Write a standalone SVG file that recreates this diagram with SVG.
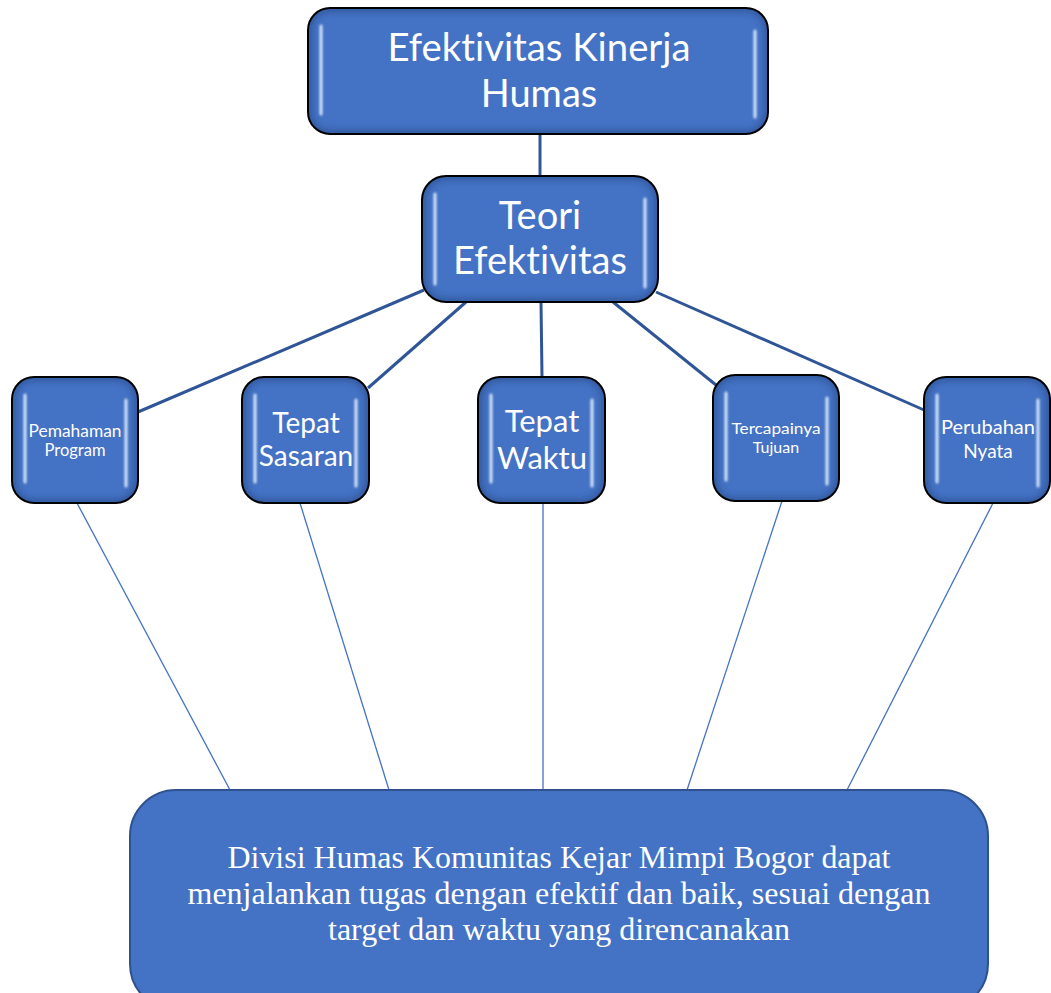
<svg xmlns="http://www.w3.org/2000/svg" width="1051" height="993" viewBox="0 0 1051 993">
<defs>
<filter id="blur" x="-10%" y="-10%" width="120%" height="120%"><feGaussianBlur stdDeviation="3"/></filter>
<filter id="hb" x="-50%" y="-5%" width="200%" height="110%"><feGaussianBlur stdDeviation="0.8"/></filter>
<clipPath id="c1"><rect x="308" y="8" width="460" height="126" rx="22"/></clipPath>
<clipPath id="c2"><rect x="422" y="176" width="236" height="126" rx="24"/></clipPath>
<clipPath id="c3"><rect x="12" y="377" width="126" height="126" rx="22"/></clipPath>
<clipPath id="c4"><rect x="242" y="377" width="127" height="126" rx="22"/></clipPath>
<clipPath id="c5"><rect x="478" y="377" width="127" height="126" rx="22"/></clipPath>
<clipPath id="c6"><rect x="713" y="375" width="126" height="126" rx="22"/></clipPath>
<clipPath id="c7"><rect x="924" y="377" width="126" height="126" rx="22"/></clipPath>
</defs>
<style>
.fill{fill:#4472C4}
.glow{fill:none;stroke:#2B4F8E;stroke-width:8;opacity:0.7}
.edge{fill:none;stroke:#000;stroke-width:2}
.hl{stroke:#D6E6FA;stroke-width:3;stroke-linecap:round;fill:none}
.t{fill:#fff;font-family:Lato,"Open Sans",sans-serif;text-anchor:middle;font-variant-ligatures:none}
.thick{stroke:#2F5597;stroke-width:3;fill:none}
.thin{stroke:#4472C4;stroke-width:1.3;fill:none}
.serif{fill:#fff;font-family:"Liberation Serif",serif;text-anchor:middle;font-size:31px}
</style>
<g id="connectors">
<line class="thick" x1="540" y1="134" x2="540" y2="176"/>
<line class="thick" x1="424" y1="290" x2="138" y2="412"/>
<line class="thick" x1="466" y1="302" x2="368" y2="388"/>
<line class="thick" x1="541" y1="302" x2="542" y2="377"/>
<line class="thick" x1="613" y1="302" x2="716" y2="385"/>
<line class="thick" x1="656" y1="292" x2="924" y2="410"/>
<line class="thin" x1="77" y1="503" x2="230" y2="790"/>
<line class="thin" x1="300" y1="503" x2="389" y2="790"/>
<line class="thin" x1="543" y1="503" x2="543" y2="790"/>
<line class="thin" x1="782" y1="501" x2="687" y2="790"/>
<line class="thin" x1="993" y1="503" x2="847" y2="790"/>
</g>
<g id="n1">
<rect class="fill" x="308" y="8" width="460" height="126" rx="22"/>
<rect class="glow" x="308" y="8" width="460" height="126" rx="22" clip-path="url(#c1)" filter="url(#blur)"/>
<rect class="edge" x="308" y="8" width="460" height="126" rx="22"/>
<g filter="url(#hb)"><line class="hl" x1="321" y1="26" x2="321" y2="114"/><line class="hl" x1="755" y1="31" x2="755" y2="117"/></g>
<text class="t" font-size="38" x="539" y="61" textLength="303" lengthAdjust="spacingAndGlyphs">Efektivitas Kinerja</text>
<text class="t" font-size="38" x="539" y="107">Humas</text>
</g>
<g id="n2">
<rect class="fill" x="422" y="176" width="236" height="126" rx="24"/>
<rect class="glow" x="422" y="176" width="236" height="126" rx="24" clip-path="url(#c2)" filter="url(#blur)"/>
<rect class="edge" x="422" y="176" width="236" height="126" rx="24"/>
<g filter="url(#hb)"><line class="hl" x1="435" y1="194" x2="435" y2="284"/><line class="hl" x1="645" y1="199" x2="645" y2="287"/></g>
<text class="t" font-size="38" x="540" y="229">Teori</text>
<text class="t" font-size="38" x="540" y="274" textLength="174" lengthAdjust="spacingAndGlyphs">Efektivitas</text>
</g>
<g id="n3">
<rect class="fill" x="12" y="377" width="126" height="126" rx="22"/>
<rect class="glow" x="12" y="377" width="126" height="126" rx="22" clip-path="url(#c3)" filter="url(#blur)"/>
<rect class="edge" x="12" y="377" width="126" height="126" rx="22"/>
<g filter="url(#hb)"><line class="hl" x1="25" y1="395" x2="25" y2="482"/><line class="hl" x1="126" y1="400" x2="126" y2="486"/></g>
<text class="t" font-size="16.5" x="75" y="437" textLength="93" lengthAdjust="spacingAndGlyphs">Pemahaman</text>
<text class="t" font-size="16.5" x="75" y="456">Program</text>
</g>
<g id="n4">
<rect class="fill" x="242" y="377" width="127" height="126" rx="22"/>
<rect class="glow" x="242" y="377" width="127" height="126" rx="22" clip-path="url(#c4)" filter="url(#blur)"/>
<rect class="edge" x="242" y="377" width="127" height="126" rx="22"/>
<g filter="url(#hb)"><line class="hl" x1="255" y1="395" x2="255" y2="482"/><line class="hl" x1="356" y1="400" x2="356" y2="486"/></g>
<text class="t" font-size="28" x="306" y="433">Tepat</text>
<text class="t" font-size="28" x="306" y="466">Sasaran</text>
</g>
<g id="n5">
<rect class="fill" x="478" y="377" width="127" height="126" rx="22"/>
<rect class="glow" x="478" y="377" width="127" height="126" rx="22" clip-path="url(#c5)" filter="url(#blur)"/>
<rect class="edge" x="478" y="377" width="127" height="126" rx="22"/>
<g filter="url(#hb)"><line class="hl" x1="491" y1="395" x2="491" y2="482"/><line class="hl" x1="592" y1="400" x2="592" y2="486"/></g>
<text class="t" font-size="31" x="542" y="432">Tepat</text>
<text class="t" font-size="31" x="542" y="469">Waktu</text>
</g>
<g id="n6">
<rect class="fill" x="713" y="375" width="126" height="126" rx="22"/>
<rect class="glow" x="713" y="375" width="126" height="126" rx="22" clip-path="url(#c6)" filter="url(#blur)"/>
<rect class="edge" x="713" y="375" width="126" height="126" rx="22"/>
<g filter="url(#hb)"><line class="hl" x1="726" y1="393" x2="726" y2="480"/><line class="hl" x1="827" y1="398" x2="827" y2="484"/></g>
<text class="t" font-size="16" x="776" y="434" textLength="89" lengthAdjust="spacingAndGlyphs">Tercapainya</text>
<text class="t" font-size="16" x="776" y="453">Tujuan</text>
</g>
<g id="n7">
<rect class="fill" x="924" y="377" width="126" height="126" rx="22"/>
<rect class="glow" x="924" y="377" width="126" height="126" rx="22" clip-path="url(#c7)" filter="url(#blur)"/>
<rect class="edge" x="924" y="377" width="126" height="126" rx="22"/>
<g filter="url(#hb)"><line class="hl" x1="937" y1="395" x2="937" y2="482"/><line class="hl" x1="1038" y1="400" x2="1038" y2="486"/></g>
<text class="t" font-size="19" x="988" y="434" textLength="94" lengthAdjust="spacingAndGlyphs">Perubahan</text>
<text class="t" font-size="19" x="988" y="458">Nyata</text>
</g>
<g id="n8">
<rect x="130" y="790" width="858" height="220" rx="46" fill="#4472C4" stroke="#2F528F" stroke-width="2"/>
<text class="serif" x="559" y="868" textLength="663" lengthAdjust="spacingAndGlyphs">Divisi Humas Komunitas Kejar Mimpi Bogor dapat</text>
<text class="serif" x="559" y="904" textLength="743" lengthAdjust="spacingAndGlyphs">menjalankan tugas dengan efektif dan baik, sesuai dengan</text>
<text class="serif" x="559" y="940" textLength="462" lengthAdjust="spacingAndGlyphs">target dan waktu yang direncanakan</text>
</g>
</svg>
